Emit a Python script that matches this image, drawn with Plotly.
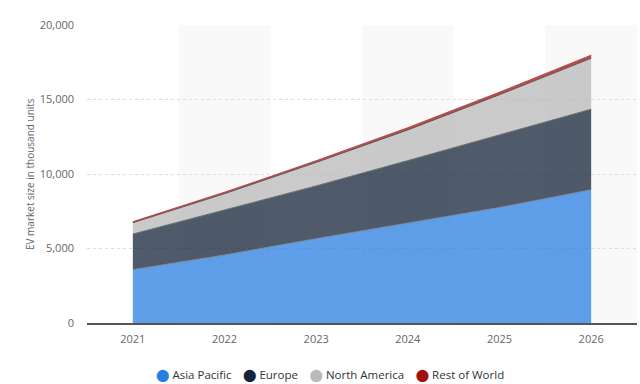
import plotly.graph_objects as go

years = [2021, 2022, 2023, 2024, 2025, 2026]
asia_pacific = [3580, 4560, 5660, 6720, 7750, 8940]
europe = [2390, 3020, 3540, 4180, 4850, 5410]
north_america = [760, 1100, 1580, 2060, 2720, 3420]
rest_of_world = [60, 80, 100, 130, 160, 200]

series = [
    ("Asia Pacific", asia_pacific, "rgba(42,125,225,0.75)", "#7a8aa0", "#2a7de1"),
    ("Europe", europe, "rgba(20,36,58,0.75)", "#6b6b6b", "#14243a"),
    ("North America", north_america, "rgba(184,184,184,0.75)", "#5a5a5a", "#bababa"),
    ("Rest of World", rest_of_world, "rgba(163,15,15,0.75)", "#b84a4a", "#a30f0f"),
]

fig = go.Figure()
for name, vals, fill, line, solid in series:
    fig.add_trace(go.Scatter(
        x=years, y=vals, name=name, stackgroup="one", mode="lines",
        fillcolor=fill, line=dict(color=line, width=1 if name != "Rest of World" else 1.3),
        showlegend=False, hoverinfo="x+y+name",
    ))

# alternating column bands
for yr in years[1::2]:
    fig.add_shape(type="rect", xref="x", yref="paper", x0=yr - 0.5, x1=yr + 0.5,
                  y0=0, y1=1, fillcolor="#f9f9f9", line=dict(width=0), layer="below")

# legend as text
legend_text = "\u2003".join(
    f'<span style="color:{solid};font-family:DejaVu Sans;font-size:12px">\u2b24</span> {name}'
    for name, _, _, _, solid in series
)
fig.add_annotation(text=legend_text, xref="paper", yref="paper", x=(330 - 87) / 550, xanchor="center",
                   y=-(374 - 323) / 298, yanchor="middle", showarrow=False,
                   font=dict(size=11.5, color="#333", family="Open Sans, sans-serif"))

# y-axis title
fig.add_annotation(text="EV market size in thousand units", xref="paper", yref="paper",
                   x=(30 - 87) / 550, y=0.5, xanchor="center", yanchor="middle",
                   textangle=-90, showarrow=False,
                   font=dict(size=10, color="#666", family="Open Sans, sans-serif"))

fig.update_layout(
    width=640, height=384,
    margin=dict(l=87, r=3, t=25, b=61, autoexpand=False),
    paper_bgcolor="white", plot_bgcolor="white",
    font=dict(family="Open Sans, sans-serif", color="#666"),
    showlegend=False,
)
fig.update_xaxes(
    range=[2020.5, 2026.5], tickvals=years, ticktext=[str(y) for y in years],
    showgrid=False, zeroline=False, showline=True, linecolor="#555", linewidth=1.5,
    ticks="", ticklabelstandoff=5, tickfont=dict(size=11, color="#666"), automargin=False,
)
fig.update_yaxes(
    range=[0, 20000], tickvals=[0, 5000, 10000, 15000, 20000], tickformat=",d",
    showgrid=True, gridcolor="#dcdcdc", griddash="dot", gridwidth=1,
    zeroline=False, showline=False, ticks="", ticklabelstandoff=12,
    tickfont=dict(size=11, color="#666"), automargin=False,
)

fig.write_html("out.html", config={"displayModeBar": False},
               post_script="document.body.style.margin='0';document.body.style.overflow='hidden';")
